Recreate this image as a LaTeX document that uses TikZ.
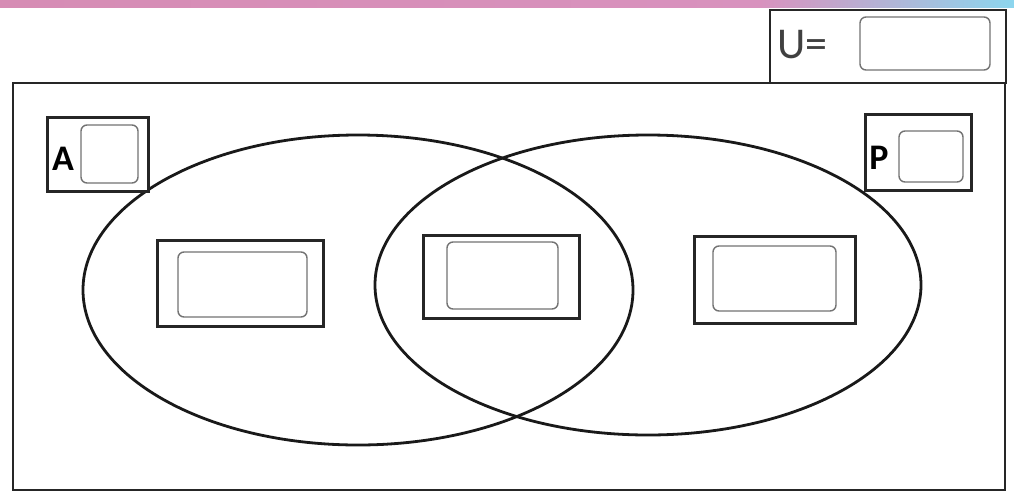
\documentclass[tikz,border=0pt]{standalone}
\usepackage{fontspec}
\setmainfont{Carlito}
\begin{document}
\begin{tikzpicture}[x=1pt,y=-1pt,
  outerbox/.style={draw=black!85,line width=3pt,fill=white},
  innerbox/.style={draw=black!55,line width=1.4pt,rounded corners=6pt,fill=white},
  setline/.style={draw=black!90,line width=2.8pt},
  frame/.style={draw=black!85,line width=2.6pt}]
\useasboundingbox (0,0) rectangle (1014,493);
\fill[white] (0,0) rectangle (1014,493);
% gradient band
\shade[left color={rgb,255:red,214;green,140;blue,180},right color={rgb,255:red,216;green,146;blue,190}] (0,0) rectangle (760,7);
\shade[left color={rgb,255:red,216;green,146;blue,190},right color={rgb,255:red,140;green,214;blue,238}] (760,0) rectangle (1014,7);
% U box
\draw[frame] (770,10) rectangle (1006,83);
\node[anchor=west,font=\fontsize{44}{44}\selectfont,text=black!75] (ulabel) at (774,45) {U=};
\draw[innerbox] (860,17) rectangle (990,70);
% main frame
\draw[frame] (13,83) rectangle (1005,490);
% ellipses
\draw[setline] (358,290) ellipse [x radius=275,y radius=155];
\draw[setline] (648,285) ellipse [x radius=273,y radius=150];
% A box
\draw[outerbox] (47,117) rectangle (148,191);
\node[font=\bfseries\fontsize{36}{36}\selectfont] (alabel) at (63,159) {A};
\draw[innerbox] (81,125) rectangle (138,183);
% P box
\draw[outerbox] (865,114) rectangle (971,190);
\node[font=\bfseries\fontsize{36}{36}\selectfont] (plabel) at (879,158) {P};
\draw[innerbox] (899,131) rectangle (963,182);
% region boxes
\draw[outerbox] (157,240) rectangle (323,326);
\draw[innerbox] (178,252) rectangle (307,317);
\draw[outerbox] (423,235) rectangle (579,318);
\draw[innerbox] (447,242) rectangle (558,309);
\draw[outerbox] (694,236) rectangle (855,323);
\draw[innerbox] (713,246) rectangle (836,311);
\end{tikzpicture}
\end{document}
